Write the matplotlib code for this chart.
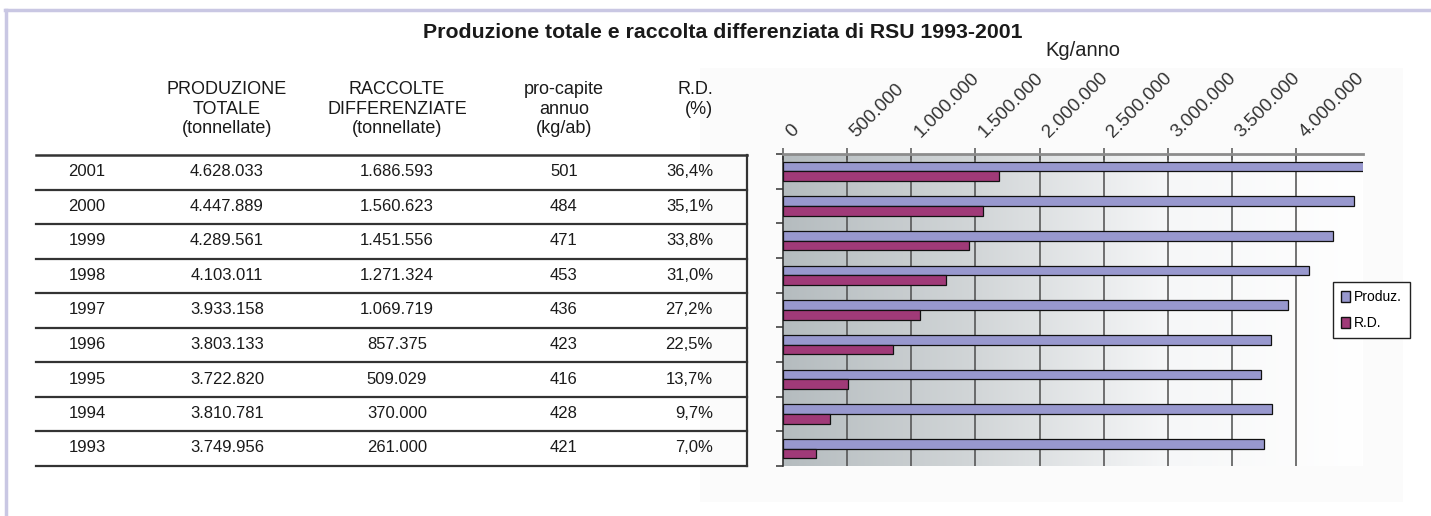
import numpy as np
import matplotlib
matplotlib.use("Agg")
import matplotlib.pyplot as plt
from matplotlib.lines import Line2D
from matplotlib.patches import Rectangle, Patch
from matplotlib.colors import LinearSegmentedColormap

plt.rcParams['font.family'] = ['Liberation Sans', 'DejaVu Sans']

# data (tonnellate / kg)
anni = [2001, 2000, 1999, 1998, 1997, 1996, 1995, 1994, 1993]
produzione = [4628033, 4447889, 4289561, 4103011, 3933158, 3803133, 3722820, 3810781, 3749956]
raccolte = [1686593, 1560623, 1451556, 1271324, 1069719, 857375, 509029, 370000, 261000]
procapite = [501, 484, 471, 453, 436, 423, 416, 428, 421]
rd_pct = [36.4, 35.1, 33.8, 31.0, 27.2, 22.5, 13.7, 9.7, 7.0]

intestazioni = ['PRODUZIONE\nTOTALE\n(tonnellate)', 'RACCOLTE\nDIFFERENZIATE\n(tonnellate)',
                'pro-capite\nannuo\n(kg/ab)', 'R.D.\n(%)']
x_ticks = [0, 500000, 1000000, 1500000, 2000000, 2500000, 3000000, 3500000, 4000000]
serie = ['Produz.', 'R.D.']

W, H = 1431, 516
fig = plt.figure(figsize=(W / 100, H / 100), dpi=100)


def fx(px):
    return px / W


def fy(py):
    return 1 - py / H


def it(n):
    return f'{n:,}'.replace(',', '.')


# outer lavender frame
fig.add_artist(Line2D([fx(5), 1], [fy(9.5), fy(9.5)], color='#C9C7E3', lw=2.5))
fig.add_artist(Line2D([fx(6), fx(6)], [fy(9.5), 0], color='#C9C7E3', lw=2.5))
# faint chart background
fig.add_artist(Rectangle((fx(700), fy(502)), fx(703), (502 - 68) / H, facecolor='#FBFBFB',
                         edgecolor='none', zorder=0))

fig.text(fx(723), fy(33), 'Produzione totale e raccolta differenziata di RSU 1993-2001',
         ha='center', va='center', fontsize=15.3, fontweight='bold', color='#1a1a1a')

# ---- table ----
col_x = [87, 227, 397, 564, 713]
fs = 12
for j, h in enumerate(intestazioni):
    ha = 'right' if j == 3 else 'center'
    fig.text(fx(col_x[j + 1]), fy(81), h, ha=ha, va='top', fontsize=13, color='#1a1a1a',
             linespacing=1.2, multialignment='right' if j == 3 else 'center')

top, step = 155, 34.5
fig.add_artist(Line2D([fx(36), fx(747)], [fy(top), fy(top)], color='#333333', lw=1.8))
for i in range(len(anni)):
    yc = top + step * i + 17
    vals = [str(anni[i]), it(produzione[i]), it(raccolte[i]), str(procapite[i]),
            f'{rd_pct[i]:.1f}%'.replace('.', ',')]
    for j, v in enumerate(vals):
        fig.text(fx(col_x[j]), fy(yc), v, ha='right' if j == 4 else 'center', va='center',
                 fontsize=fs, color='#1a1a1a')
    yl = top + step * (i + 1)
    fig.add_artist(Line2D([fx(36), fx(747)], [fy(yl), fy(yl)], color='#333333', lw=1.6))
fig.add_artist(Line2D([fx(747), fx(747)], [fy(top), fy(top + step * 9)], color='#333333', lw=1.6))

# ---- bar chart ----
ax = fig.add_axes([fx(783), fy(466), fx(1363 - 783), (466 - 154) / H])
xmax = 4520000
y = np.arange(len(anni))
bh = 0.275

grad = LinearSegmentedColormap.from_list('g', ['#B5BCBF', '#D2D6D8', '#F6F7F8', '#FFFFFF'])
ax.imshow(np.linspace(0, 1, 256).reshape(1, -1), extent=[0, xmax, 8.5, -0.5], aspect='auto',
          cmap=grad, zorder=0)
for xv in x_ticks[1:]:
    ax.axvline(xv, color='#4d4d4d', lw=1.1, zorder=1)

ax.barh(y - bh / 2, produzione, height=bh, color='#9898CE', edgecolor='#111111', lw=0.9,
        zorder=3, label=serie[0])
ax.barh(y + bh / 2, raccolte, height=bh, color='#A03A78', edgecolor='#111111', lw=0.9,
        zorder=3, label=serie[1])

ax.set_xlim(0, xmax)
ax.set_ylim(8.5, -0.5)
ax.xaxis.tick_top()
ax.set_xticks(x_ticks)
ax.set_xticklabels([it(v) for v in x_ticks], rotation=45, ha='left', va='top',
                   rotation_mode='anchor', fontsize=13.5, color='#333333')
ax.tick_params(axis='x', direction='inout', length=8, width=1.1, color='#555555', pad=14)
ax.set_yticks(np.arange(-0.5, 9, 1))
ax.set_yticklabels([])
ax.tick_params(axis='y', direction='out', length=5, width=1.1, color='#333333')
for s in ['right', 'bottom']:
    ax.spines[s].set_visible(False)
ax.spines['top'].set_color('#8c8c8c')
ax.spines['top'].set_linewidth(2)
ax.spines['left'].set_color('#333333')
ax.spines['left'].set_linewidth(1.2)

fig.text(fx(1083), fy(50), 'Kg/anno', ha='center', va='center', fontsize=14.5, color='#222222')

handles = [Patch(facecolor='#9898CE', edgecolor='#111111'), Patch(facecolor='#A03A78', edgecolor='#111111')]
fig.legend(handles, serie, loc='upper left', bbox_to_anchor=(fx(1333), fy(282)), fontsize=10,
           frameon=True, fancybox=False, edgecolor='#222222', framealpha=1,
           handlelength=0.6, handleheight=0.8, handletextpad=0.3, borderpad=0.6,
           labelspacing=0.85, borderaxespad=0)

fig.savefig('out.png', dpi=100)
